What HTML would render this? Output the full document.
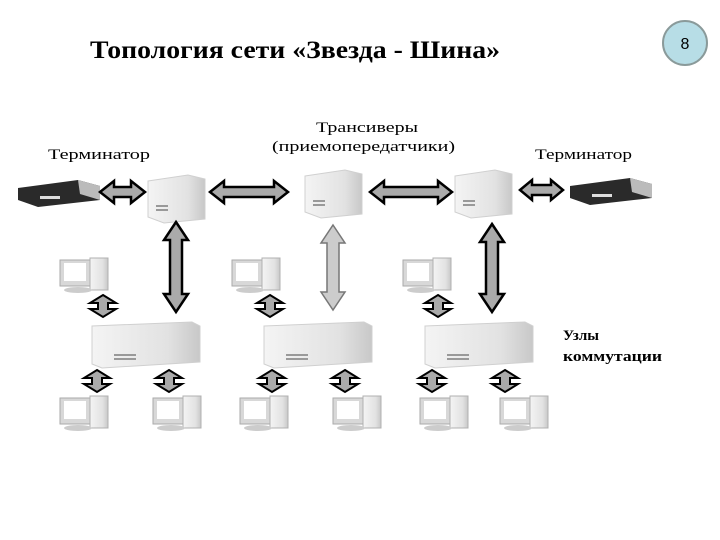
<!DOCTYPE html><html><head><meta charset="utf-8"><style>
html,body{margin:0;padding:0;background:#fff;width:720px;height:540px;overflow:hidden}
text{font-family:"Liberation Serif",serif;fill:#000}
</style></head><body>
<svg width="720" height="540" viewBox="0 0 720 540" xmlns="http://www.w3.org/2000/svg">
<defs>
<linearGradient id="sg" x1="0" y1="0" x2="1" y2="0"><stop offset="0" stop-color="#f4f4f4"/><stop offset="0.7" stop-color="#e2e2e2"/><stop offset="1" stop-color="#c8c8c8"/></linearGradient>
<g id="pc">
<rect x="0" y="2" width="30" height="26" fill="#d8d8d8" stroke="#aaa" stroke-width="1"/>
<rect x="4" y="5" width="22" height="18" fill="#fff"/>
<rect x="30" y="0" width="18" height="32" fill="url(#sg)" stroke="#b0b0b0"/>
<ellipse cx="18" cy="32" rx="14" ry="3" fill="#ccc"/>
</g>
<g id="srv">
<path d="M0 6 L40 0 L57 4 L57 44 L16 48 L0 42Z" fill="url(#sg)" stroke="#d0d0d0"/>
<rect x="8" y="30" width="12" height="2" fill="#999"/><rect x="8" y="34" width="12" height="2" fill="#999"/>
</g>
<g id="big">
<path d="M0 4 L100 0 L108 4 L108 40 L10 46 L0 42Z" fill="url(#sg)" stroke="#d0d0d0"/>
<rect x="22" y="32" width="22" height="2" fill="#999"/><rect x="22" y="36" width="22" height="2" fill="#999"/>
</g>
<g id="term">
<path d="M0 8 L60 0 L82 6 L82 20 L20 27 L0 20Z" fill="#2a2a2a"/>
<path d="M60 0 L82 6 L82 20 L62 14Z" fill="#bbb"/>
<rect x="22" y="16" width="20" height="3" fill="#ddd"/>
</g>
<path id="sa" d="M0 0 L13 8 L5 8 L5 14 L13 14 L0 22 L-13 14 L-5 14 L-5 8 L-13 8Z" fill="#aaa" stroke="#000" stroke-width="2"/>
</defs>
<text x="90" y="58" font-size="25" font-weight="bold" textLength="410" lengthAdjust="spacingAndGlyphs">Топология сети «Звезда - Шина»</text>
<circle cx="685" cy="43" r="22" fill="#b7dde6" stroke="#8a9a9a" stroke-width="2"/>
<text x="685" y="49" font-size="16" text-anchor="middle" style="font-family:'Liberation Sans',sans-serif">8</text>
<text x="48" y="159" font-size="15" textLength="102" lengthAdjust="spacingAndGlyphs">Терминатор</text>
<text x="316" y="132" font-size="15" textLength="102" lengthAdjust="spacingAndGlyphs">Трансиверы</text>
<text x="272" y="151" font-size="15" textLength="183" lengthAdjust="spacingAndGlyphs">(приемопередатчики)</text>
<text x="535" y="159" font-size="15" textLength="97" lengthAdjust="spacingAndGlyphs">Терминатор</text>
<text x="563" y="340" font-size="15" font-weight="bold" textLength="36" lengthAdjust="spacingAndGlyphs">Узлы</text>
<text x="563" y="361" font-size="15" font-weight="bold" textLength="99" lengthAdjust="spacingAndGlyphs">коммутации</text>
<use href="#term" x="18" y="180"/>
<use href="#term" x="570" y="178"/>
<use href="#srv" x="148" y="175"/>
<use href="#srv" x="305" y="170"/>
<use href="#srv" x="455" y="170"/>
<use href="#big" x="92" y="322"/>
<use href="#big" x="264" y="322"/>
<use href="#big" x="425" y="322"/>
<g fill="#aaa" stroke="#000" stroke-width="2.5">
<path d="M100 192 L114 181 L114 187 L131 187 L131 181 L145 192 L131 203 L131 197 L114 197 L114 203Z"/>
<path d="M210 192 L224 181 L224 187 L274 187 L274 181 L288 192 L274 203 L274 197 L224 197 L224 203Z"/>
<path d="M370 192 L384 181 L384 187 L438 187 L438 181 L452 192 L438 203 L438 197 L384 197 L384 203Z"/>
<path d="M520 190 L532 180 L532 185 L551 185 L551 180 L563 190 L551 200 L551 195 L532 195 L532 200Z"/>
<path d="M176 222 L188 240 L182 240 L182 294 L188 294 L176 312 L164 294 L170 294 L170 240 L164 240Z"/>
<path d="M492 224 L504 242 L498 242 L498 294 L504 294 L492 312 L480 294 L486 294 L486 242 L480 242Z"/>
</g>
<path d="M333 225 L345 243 L339 243 L339 292 L345 292 L333 310 L321 292 L327 292 L327 243 L321 243Z" fill="#ccc" stroke="#777" stroke-width="1.5"/>
<use href="#pc" x="60" y="258"/><use href="#pc" x="232" y="258"/><use href="#pc" x="403" y="258"/>
<use href="#sa" x="103" y="295"/><use href="#sa" x="270" y="295"/><use href="#sa" x="438" y="295"/>
<use href="#sa" x="97" y="370"/><use href="#sa" x="169" y="370"/><use href="#sa" x="272" y="370"/><use href="#sa" x="345" y="370"/><use href="#sa" x="432" y="370"/><use href="#sa" x="505" y="370"/>
<use href="#pc" x="60" y="396"/><use href="#pc" x="153" y="396"/><use href="#pc" x="240" y="396"/><use href="#pc" x="333" y="396"/><use href="#pc" x="420" y="396"/><use href="#pc" x="500" y="396"/>
</svg>
</body></html>
